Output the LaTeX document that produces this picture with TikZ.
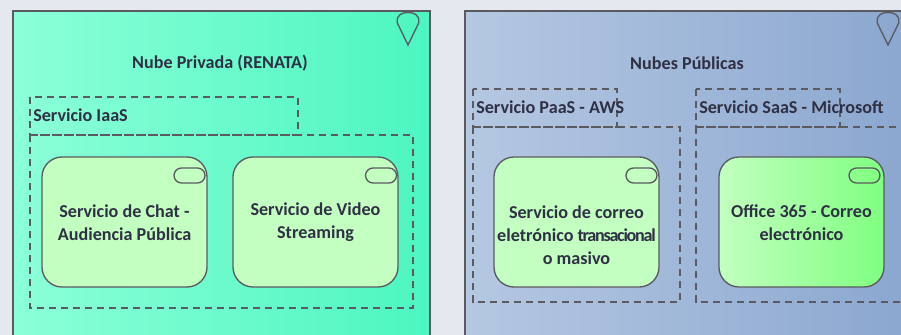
\documentclass[tikz,border=0pt]{standalone}
\usepackage{fontspec}
\setmainfont{Carlito}
\usetikzlibrary{shapes.misc}
\definecolor{bgc}{HTML}{E6E8F0}
\definecolor{edgec}{HTML}{5A5A60}
\definecolor{txtc}{HTML}{303045}
\definecolor{privl}{HTML}{8CFFD8}
\definecolor{privr}{HTML}{4CF6C0}
\definecolor{publ}{HTML}{B5C8E2}
\definecolor{pubr}{HTML}{8AA6CF}
\definecolor{svcfill}{HTML}{C2FFC0}
\definecolor{svcbright}{HTML}{80FF80}
\tikzset{
  cloud/.style={draw=edgec, line width=1.1pt, rectangle, inner sep=0pt},
  grp/.style={draw=edgec, line width=0.9pt, dash pattern=on 5.5pt off 3.5pt},
  svcbox/.style={draw=edgec, line width=1pt, fill=svcfill, rounded corners=15pt, rectangle,
     minimum width=123.75pt, minimum height=97.5pt, inner sep=0pt},
  pill/.style={draw=edgec, line width=1pt, rounded rectangle, minimum width=23.25pt,
     minimum height=11.25pt, inner sep=0pt},
  lbl/.style={text=txtc, font=\bfseries\fontsize{13.6}{17.25}\selectfont, align=center, inner sep=0pt},
  grplbl/.style={text=txtc, font=\bfseries\fontsize{13.6}{17.25}\selectfont, anchor=west, inner sep=0pt},
  pinstyle/.style={draw=edgec, line width=1pt}
}
\begin{document}
\begin{tikzpicture}[x=0.75pt,y=-0.75pt]
\useasboundingbox (0,0) rectangle (901,335);
\clip (0,0) rectangle (901,335);
\fill[bgc] (0,0) rectangle (901,335);
% private cloud
\draw[cloud, left color=privl, right color=privr] (13,11) rectangle (430,345);
\coordinate (pinA) at (408,45);
\draw[pinstyle] (pinA) -- (397.3,23) .. controls (396,14) and (403,12.5) .. (408,12.5) .. controls (413,12.5) and (420,14) .. (418.7,23) -- cycle;
\node[lbl] (t1) at (220,63) {Nube Privada (RENATA)};
\draw[grp] (30,97) rectangle (298,135);
\draw[grp] (30,135) rectangle (413,308);
\node[grplbl] (g1) at (33,115) {Servicio IaaS};
\node[svcbox] (n1) at (124.5,222) {};
\node[pill] (p1) at (189.5,175.5) {};
\node[lbl] (n1t) at (124.5,222.5) {Servicio de Chat -\\Audiencia Pública};
\node[svcbox] (n2) at (315.5,222) {};
\node[pill] (p2) at (381,175.5) {};
\node[lbl] (n2t) at (315.5,222.5) {Servicio de Video\\Streaming};
% public clouds
\draw[cloud, left color=publ, right color=pubr] (465,11) rectangle (920,345);
\coordinate (pinB) at (888,45);
\draw[pinstyle] (pinB) -- (877.3,23) .. controls (876,14) and (883,12.5) .. (888,12.5) .. controls (893,12.5) and (900,14) .. (898.7,23) -- cycle;
\node[lbl] (t2) at (687,63) {Nubes Públicas};
\draw[grp] (473,89) rectangle (617,127);
\draw[grp] (473,127) rectangle (680,302);
\node[grplbl] (g2) at (476,107) {Servicio PaaS - AWS};
\draw[grp] (696,89) rectangle (840,127);
\draw[grp] (696,127) rectangle (915,302);
\node[grplbl] (g3) at (699,107) {Servicio SaaS - Microsoft};
\node[svcbox] (n3) at (576.5,222) {};
\node[pill] (p3) at (641.5,175.5) {};
\node[lbl] (n3t) at (576.5,235) {Servicio de correo\\eletrónico {\addfontfeature{LetterSpace=-7}transacional}\\o masivo};
\node[svcbox, fill=none, middle color=svcfill, left color=svcfill, right color=svcbright] (n4) at (801.5,222) {};
\node[pill] (p4) at (864.5,175.5) {};
\node[lbl] (n4t) at (801.5,222.5) {Office 365 - Correo\\electrónico};
\end{tikzpicture}
\end{document}
